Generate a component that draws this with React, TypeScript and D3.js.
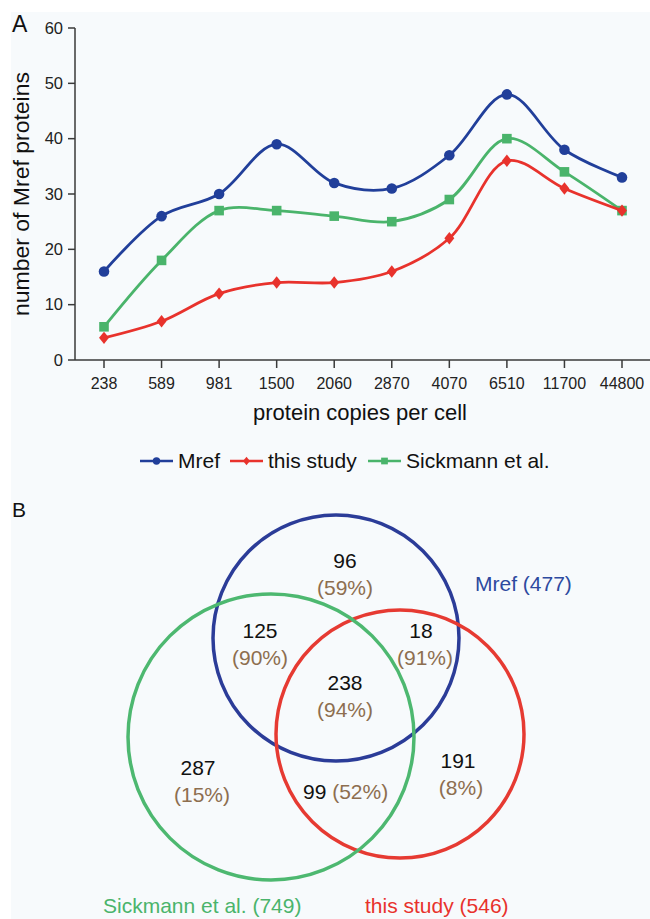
import React from 'react';
import * as d3 from 'd3';

// panel A data
const copies = ['238', '589', '981', '1500', '2060', '2870', '4070', '6510', '11700', '44800'];
const mrefCounts = [16, 26, 30, 39, 32, 31, 37, 48, 38, 33];
const studyCounts = [4, 7, 12, 14, 14, 16, 22, 36, 31, 27];
const sickmannCounts = [6, 18, 27, 27, 26, 25, 29, 40, 34, 27];
const yTicks = [0, 10, 20, 30, 40, 50, 60];

// panel B data
const setNames = ['Mref', 'this study', 'Sickmann et al.'];
const setSizes = [477, 546, 749];
const regionCounts = [96, 125, 18, 238, 287, 99, 191];
const regionPercents = ['59%', '90%', '91%', '94%', '15%', '52%', '8%'];

const BLUE = '#213f9a';
const RED = '#e8322c';
const GREEN = '#4ab46b';
const BROWN = '#8d6e4f';
const AXIS = '#3a3a3a';
const FONT = 'Liberation Sans, Arial, sans-serif';

const xScale = d3.scalePoint<string>().domain(copies).range([104, 622]);
const yScale = d3.scaleLinear().domain([0, 60]).range([360, 28]);

const line = d3.line<number>()
  .x((d, i) => xScale(copies[i]) as number)
  .y(d => yScale(d))
  .curve(d3.curveCatmullRom.alpha(0.5));

const Marker = ({ kind, x, y, color, s = 1 }: any) => {
  if (kind === 'circle') return <circle cx={x} cy={y} r={5.3 * s} fill={color} />;
  if (kind === 'square') return <rect x={x - 4.8 * s} y={y - 4.8 * s} width={9.6 * s} height={9.6 * s} fill={color} />;
  const r = 6.2 * s;
  return <path d={`M${x},${y - r}L${x + r * 0.8},${y}L${x},${y + r}L${x - r * 0.8},${y}Z`} fill={color} />;
};

const series = [
  { name: setNames[0], values: mrefCounts, color: BLUE, kind: 'circle' },
  { name: setNames[2], values: sickmannCounts, color: GREEN, kind: 'square' },
  { name: setNames[1], values: studyCounts, color: RED, kind: 'diamond' },
];

// venn layout (centres and radii in px)
const circles = [
  { cx: 336, cy: 638, r: 123, color: '#2b3c98' },
  { cx: 400, cy: 734, r: 124, color: '#e63a32' },
  { cx: 271, cy: 737, r: 143, color: '#4db870' },
];
// label anchor points for each region, same order as regionCounts
const regionPos = [
  [345, 560], [260, 630], [421, 630], [345, 682], [198, 767], [0, 0], [458, 760],
];

const App = () => {
  const legendItems = [
    { label: setNames[0], color: BLUE, kind: 'circle', x: 140 },
    { label: setNames[1], color: RED, kind: 'diamond', x: 230 },
    { label: setNames[2], color: GREEN, kind: 'square', x: 368 },
  ];
  return (
    <svg width={650} height={919} style={{ position: 'absolute', left: 0, top: 0 }} fontFamily={FONT}>
      <rect x={0} y={0} width={650} height={919} fill='#fff' />
      <rect x={11} y={12} width={639} height={907} fill='#f7fafc' />

      {/* A */}
      <text x={12} y={32} fontSize={23} fill='#111'>A</text>
      <text transform={`translate(29,${(yScale(0) + yScale(60)) / 2}) rotate(-90)`} textAnchor='middle'
        fontSize={22} fill='#111' textLength={244} lengthAdjust='spacingAndGlyphs'>number of Mref proteins</text>

      <g className='yAxis'>
        <line x1={75} x2={75} y1={yScale(60)} y2={yScale(0)} stroke={AXIS} strokeWidth={1.5} />
        {yTicks.map(t => (
          <g key={t}>
            <line x1={68} x2={75} y1={yScale(t)} y2={yScale(t)} stroke={AXIS} strokeWidth={1.5} />
            <text x={63} y={yScale(t)} dy={5.8} textAnchor='end' fontSize={16.5} fill='#222'>{t}</text>
          </g>
        ))}
      </g>
      <g className='xAxis'>
        <line x1={75} x2={650} y1={yScale(0)} y2={yScale(0)} stroke={AXIS} strokeWidth={1.5} />
        {copies.map(c => (
          <g key={c}>
            <line x1={xScale(c)} x2={xScale(c)} y1={yScale(0)} y2={yScale(0) + 8} stroke={AXIS} strokeWidth={1.5} />
            <text x={xScale(c)} y={389} textAnchor='middle' fontSize={16} fill='#222'>{c}</text>
          </g>
        ))}
      </g>
      <text x={360} y={420} textAnchor='middle' fontSize={22} fill='#111'>protein copies per cell</text>

      {series.map(s => (
        <g key={s.name}>
          <path d={line(s.values) as string} fill='none' stroke={s.color} strokeWidth={2.8} />
          {s.values.map((v, i) => (
            <Marker key={i} kind={s.kind} x={xScale(copies[i])} y={yScale(v)} color={s.color} />
          ))}
        </g>
      ))}

      {/* legend */}
      {legendItems.map(l => (
        <g key={l.label}>
          <line x1={l.x} x2={l.x + 33} y1={461} y2={461} stroke={l.color} strokeWidth={2.6} />
          <Marker kind={l.kind} x={l.x + 16.5} y={461} color={l.color} s={0.7} />
          <text x={l.x + 38} y={468} fontSize={21} fill='#111'>{l.label}</text>
        </g>
      ))}

      {/* B */}
      <text x={12} y={517} fontSize={21} fill='#111'>B</text>
      {circles.map((c, i) => (
        <circle key={i} cx={c.cx} cy={c.cy} r={c.r} fill='none' stroke={c.color} strokeWidth={3.5} />
      ))}
      {regionCounts.map((n, i) => {
        if (i === 5) {
          return (
            <text key={i} x={303} y={799} fontSize={21}>
              <tspan fill='#111'>{n}</tspan>
              <tspan fill={BROWN}>{` (${regionPercents[i]})`}</tspan>
            </text>
          );
        }
        const [x, y] = regionPos[i];
        return (
          <g key={i}>
            <text x={x} y={y + 7.5} textAnchor='middle' fontSize={21} fill='#111'>{n}</text>
            <text x={x + (i === 2 || i === 4 ? 4 : i === 6 ? 3 : 0)} y={y + 34.5} textAnchor='middle' fontSize={21} fill={BROWN}>
              ({regionPercents[i]})
            </text>
          </g>
        );
      })}
      <text x={475} y={591} fontSize={21} fill='#2d4a9f'>{`${setNames[0]} (${setSizes[0]})`}</text>
      <text x={103} y={913} fontSize={21} fill={GREEN}>{`${setNames[2]} (${setSizes[2]})`}</text>
      <text x={365} y={913} fontSize={21} fill={RED}>{`${setNames[1]} (${setSizes[1]})`}</text>
    </svg>
  );
};

export default App;
